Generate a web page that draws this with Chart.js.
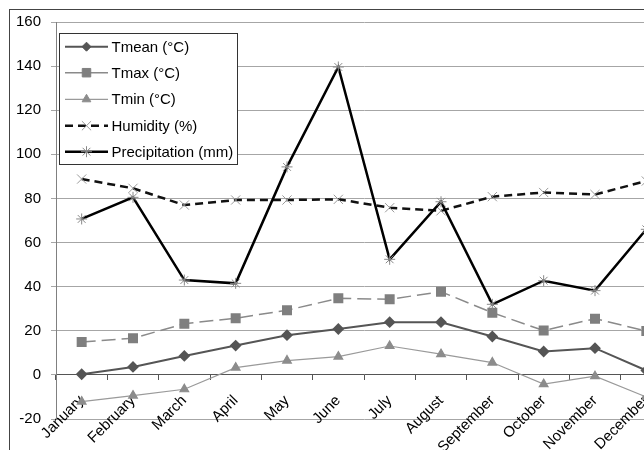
<!DOCTYPE html>
<html lang="en">
  <head>
    <meta charset="UTF-8" />
    <title>Climate</title>
    <style>
      body { margin: 0; overflow: hidden; background: #fff; }
      .moldura {
        position: absolute;
        left: 9px;
        top: 9px;
        width: 670px;
        height: 445px;
        border: 1px solid #444;
      }
    </style>
  </head>
  <body>
    <div class="moldura">
      <canvas id="grafico"></canvas>
    </div>
    <script src="https://cdn.jsdelivr.net/npm/chart.js"></script>
    <script>
      const meses = ["January", "February", "March", "April", "May", "June",
        "July", "August", "September", "October", "November", "December"];
      const tmean = [0.3, 3.6, 8.6, 13.3, 18.0, 20.8, 23.9, 23.9, 17.4, 10.6, 12.1, 2.0];
      const tmax = [14.9, 16.6, 23.2, 25.7, 29.3, 34.7, 34.3, 37.7, 28.2, 20.1, 25.5, 19.9];
      const tmin = [-12.1, -9.4, -6.5, 3.3, 6.5, 8.3, 13.1, 9.4, 5.6, -4.2, -0.6, -10];
      const umidade = [88.8, 84.6, 77.0, 79.3, 79.3, 79.6, 75.8, 74.4, 80.8, 82.7, 81.8, 87.9];
      const chuva = [70.7, 80.5, 43.0, 41.5, 94.3, 139.6, 52.4, 78.5, 32.0, 42.7, 38.2, 66];
      const yMin = -20;
      const yMax = 160;
      const yPasso = 20;

      const fonte = "Arial, 'Liberation Sans', sans-serif";

      // legenda desenhada dentro da area do grafico
      const legendaBox = {
        id: "legendaBox",
        afterDraw(chart) {
          const ctx = chart.ctx;
          const x0 = 49.5, y0 = 23.5, w = 178, h = 131;
          ctx.save();
          ctx.fillStyle = "#fff";
          ctx.strokeStyle = "#333";
          ctx.lineWidth = 1;
          ctx.fillRect(x0, y0, w, h);
          ctx.strokeRect(x0, y0, w, h);
          const linhas = [36.7, 62.7, 89.3, 115.7, 141.7];
          chart.data.datasets.forEach(function (ds, i) {
            const y = linhas[i];
            // so a umidade fica tracejada na legenda
            ctx.setLineDash(ds.label.indexOf("Humidity") == 0 ? ds.borderDash : []);
            ctx.strokeStyle = ds.borderColor;
            ctx.lineWidth = ds.borderWidth;
            ctx.beginPath();
            ctx.moveTo(55, y);
            ctx.lineTo(98, y);
            ctx.stroke();
            ctx.setLineDash([]);
            ctx.fillStyle = ds.pointBackgroundColor;
            ctx.strokeStyle = ds.pointBorderColor;
            ctx.lineWidth = 1;
            Chart.helpers.drawPoint(ctx, {
              pointStyle: ds.pointStyle,
              radius: ds.pointRadius,
              rotation: 0,
              borderWidth: 1
            }, 76.5, y);
            ctx.fillStyle = "#000";
            ctx.font = "15px " + fonte;
            ctx.textBaseline = "middle";
            ctx.fillText(ds.label, 101.5, y + 1);
          });
          ctx.restore();
        }
      };

      const data = {
        labels: meses,
        datasets: [
          {
            label: "Tmean (°C)",
            data: tmean,
            borderColor: "#555",
            borderWidth: 2,
            pointStyle: "rectRot",
            pointRadius: 4.5,
            pointBackgroundColor: "#555",
            pointBorderColor: "#555",
            order: 3
          },
          {
            label: "Tmax (°C)",
            data: tmax,
            borderColor: "#8a8a8a",
            borderWidth: 1.5,
            borderDash: [14, 6],
            pointStyle: "rect",
            pointRadius: 6,
            pointBackgroundColor: "#7f7f7f",
            pointBorderColor: "#7f7f7f",
            order: 4
          },
          {
            label: "Tmin (°C)",
            data: tmin,
            borderColor: "#9a9a9a",
            borderWidth: 1.2,
            pointStyle: "triangle",
            pointRadius: 5,
            pointBackgroundColor: "#8c8c8c",
            pointBorderColor: "#8c8c8c",
            order: 5
          },
          {
            label: "Humidity (%)",
            data: umidade,
            borderColor: "#111",
            borderWidth: 2.5,
            borderDash: [8, 5],
            pointStyle: "crossRot",
            pointRadius: 6.5,
            pointBackgroundColor: "#999",
            pointBorderColor: "#999",
            pointBorderWidth: 1,
            order: 2
          },
          {
            label: "Precipitation (mm)",
            data: chuva,
            borderColor: "#000",
            borderWidth: 2.5,
            pointStyle: "star",
            pointRadius: 5.5,
            pointBackgroundColor: "#888",
            pointBorderColor: "#888",
            pointBorderWidth: 1,
            order: 1
          }
        ]
      };

      const config = {
        type: "line",
        data: data,
        options: {
          responsive: false,
          animation: false,
          events: [],
          layout: {
            padding: { top: 12, right: 8, bottom: 36, left: 0 }
          },
          elements: {
            line: { tension: 0, fill: false }
          },
          plugins: {
            legend: { display: false },
            tooltip: { enabled: false }
          },
          scales: {
            x: {
              position: { y: 0 },
              offset: true,
              afterFit: function (s) {
                s.height = 0;
                s.paddingTop = 0;
                s.paddingBottom = 0;
              },
              grid: {
                offset: true,
                drawOnChartArea: false,
                tickLength: 5,
                color: "#555"
              },
              border: { color: "#555", width: 1 },
              ticks: {
                color: "#000",
                font: { family: fonte, size: 15 },
                minRotation: 45,
                maxRotation: 45,
                padding: 12
              }
            },
            y: {
              min: yMin,
              max: yMax,
              afterFit: function (s) {
                s.width = 46;
                s.paddingTop = 0;
                s.paddingBottom = 0;
              },
              grid: {
                color: "#a6a6a6",
                tickLength: 5
              },
              border: { color: "#808080" },
              ticks: {
                stepSize: yPasso,
                color: "#000",
                padding: 10,
                font: { family: fonte, size: 15 }
              }
            }
          }
        },
        plugins: [legendaBox]
      };

      const cv = document.getElementById("grafico");
      cv.width = 670;
      cv.height = 445;
      new Chart(cv, config);
    </script>
  </body>
</html>
